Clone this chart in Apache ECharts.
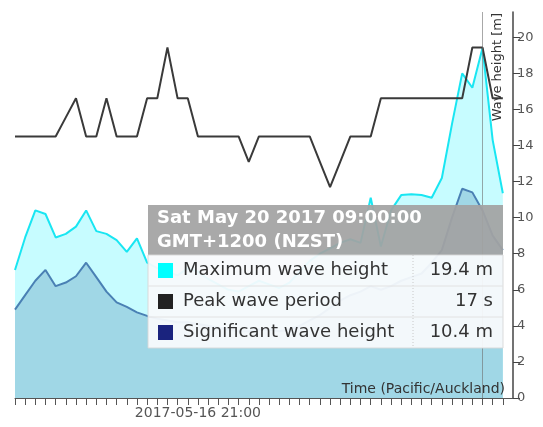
<!DOCTYPE html>
<html>
<head>
<meta charset="utf-8">
<script src="https://cdn.jsdelivr.net/npm/echarts@6/dist/echarts.min.js"></script>
<style>html,body{margin:0;padding:0;background:#fff;}#c{width:543px;height:427px;}</style>
</head>
<body>
<div id="c"></div>
<script>
// Times in NZST (UTC+12), 3-hourly
const times = [
 '2017-05-14 15:00','2017-05-14 18:00','2017-05-14 21:00',
 '2017-05-15 00:00','2017-05-15 03:00','2017-05-15 06:00','2017-05-15 09:00','2017-05-15 12:00','2017-05-15 15:00','2017-05-15 18:00','2017-05-15 21:00',
 '2017-05-16 00:00','2017-05-16 03:00','2017-05-16 06:00','2017-05-16 09:00','2017-05-16 12:00','2017-05-16 15:00','2017-05-16 18:00','2017-05-16 21:00',
 '2017-05-17 00:00','2017-05-17 03:00','2017-05-17 06:00','2017-05-17 09:00','2017-05-17 12:00','2017-05-17 15:00','2017-05-17 18:00','2017-05-17 21:00',
 '2017-05-18 00:00','2017-05-18 03:00','2017-05-18 06:00','2017-05-18 09:00','2017-05-18 12:00','2017-05-18 15:00','2017-05-18 18:00','2017-05-18 21:00',
 '2017-05-19 00:00','2017-05-19 03:00','2017-05-19 06:00','2017-05-19 09:00','2017-05-19 12:00','2017-05-19 15:00','2017-05-19 18:00','2017-05-19 21:00',
 '2017-05-20 00:00','2017-05-20 03:00','2017-05-20 06:00','2017-05-20 09:00','2017-05-20 12:00','2017-05-20 15:00'
];
const maxWave = [7.1,8.9,10.4,10.2,8.9,9.1,9.5,10.4,9.25,9.1,8.75,8.1,8.85,7.5,
 7.2,7.0,6.8,7.2,7.0,6.6,6.3,6.0,5.9,6.2,6.5,6.3,6.1,6.4,7.0,7.6,8.0,8.3,8.6,8.8,8.6,
 11.1,8.4,10.4,11.25,11.3,11.25,11.1,12.2,15.2,18.0,17.2,19.4,14.3,11.35];
const sigWave = [4.9,5.7,6.5,7.1,6.2,6.4,6.75,7.5,6.7,5.9,5.3,5.05,4.75,4.55,
 4.4,4.3,4.2,4.2,4.1,4.0,3.9,3.8,3.7,3.7,3.8,3.8,3.7,3.8,4.0,4.3,4.6,5.0,5.4,5.7,5.9,
 6.2,6.0,6.2,6.5,6.7,6.9,7.5,8.2,10.0,11.6,11.4,10.4,9.0,8.2];
const peakPeriod = [13.5,13.5,13.5,13.5,13.5,14.25,15,13.5,13.5,15,13.5,13.5,13.5,15,15,17,15,15,
 13.5,13.5,13.5,13.5,13.5,12.5,13.5,13.5,13.5,13.5,13.5,13.5,12.5,11.5,12.5,13.5,13.5,13.5,
 15,15,15,15,15,15,15,15,15,17,17,15,15];
const yTicks = {min:0, max:21.4, interval:2};
const xLabelTime = '2017-05-16 21:00';
const hoverIndex = 46;
const seriesNames = ['Maximum wave height','Peak wave period','Significant wave height'];

const HOUR = 3600000;
function toTs(s){ const [d,t]=s.split(' '); const [y,m,dd]=d.split('-').map(Number); const [h,mi]=t.split(':').map(Number); return Date.UTC(y,m-1,dd,h-12,mi); }
const ts = times.map(toTs);
function fmtLabel(v){ const d=new Date(v+12*HOUR); const p=n=>String(n).padStart(2,'0');
  return d.getUTCFullYear()+'-'+p(d.getUTCMonth()+1)+'-'+p(d.getUTCDate())+' '+p(d.getUTCHours())+':'+p(d.getUTCMinutes()); }
function fmtHeader(v){ const d=new Date(v+12*HOUR); const p=n=>String(n).padStart(2,'0');
  const days=['Sun','Mon','Tue','Wed','Thu','Fri','Sat']; const mons=['Jan','Feb','Mar','Apr','May','Jun','Jul','Aug','Sep','Oct','Nov','Dec'];
  return days[d.getUTCDay()]+' '+mons[d.getUTCMonth()]+' '+p(d.getUTCDate())+' '+d.getUTCFullYear()+' '+p(d.getUTCHours())+':'+p(d.getUTCMinutes())+':'+p(d.getUTCSeconds()); }

const xMin = ts[0];
const xMax = ts[0] + 147*HOUR;
const labelTs = toTs(xLabelTime);

const chart = echarts.init(document.getElementById('c'), null, {renderer:'canvas'});
const FONT = 'DejaVu Sans';
const tipX = 148, tipY = 205, tipW = 355;
const ZT = 100;
const rows = [
  {name: seriesNames[0], color:'#00ffff', val: maxWave[hoverIndex].toFixed(1)+' m'},
  {name: seriesNames[1], color:'#222222', val: peakPeriod[hoverIndex]+' s'},
  {name: seriesNames[2], color:'#1a237e', val: sigWave[hoverIndex].toFixed(1)+' m'}
];
const hdr = fmtHeader(ts[hoverIndex]);
const tipChildren = [
  {type:'rect', z:ZT, shape:{x:0,y:0,width:tipW,height:50}, style:{fill:'rgba(163,163,163,0.93)'}},
  {type:'rect', z:ZT, shape:{x:0,y:50,width:tipW,height:93}, style:{fill:'rgba(248,250,252,0.94)', stroke:'rgba(215,215,215,0.9)', lineWidth:1}},
  {type:'text', z:ZT+2, x:9, y:13, style:{text:hdr, fill:'#ffffff', font:'bold 18px "'+FONT+'"', textVerticalAlign:'middle', verticalAlign:'middle'}},
  {type:'text', z:ZT+2, x:9, y:37, style:{text:'GMT+1200 (NZST)', fill:'#ffffff', font:'bold 18px "'+FONT+'"', textVerticalAlign:'middle', verticalAlign:'middle'}},
  {type:'line', z:ZT+1, shape:{x1:265,y1:50,x2:265,y2:143}, style:{stroke:'#c8c8c8', lineWidth:1, lineDash:[1,2]}}
];
rows.forEach((r,i)=>{
  const cy = 50 + 15.5 + i*31;
  if(i>0) tipChildren.push({type:'line', z:ZT+1, shape:{x1:0,y1:50+i*31,x2:tipW,y2:50+i*31}, style:{stroke:'#e2e2e2', lineWidth:1}});
  tipChildren.push({type:'rect', z:ZT+2, shape:{x:10,y:cy-7.5,width:15,height:15}, style:{fill:r.color}});
  tipChildren.push({type:'text', z:ZT+2, x:35, y:cy, style:{text:r.name, fill:'#333', font:'18px "'+FONT+'"', textVerticalAlign:'middle', verticalAlign:'middle'}});
  tipChildren.push({type:'text', z:ZT+2, x:345, y:cy, style:{text:r.val, fill:'#333', font:'18px "'+FONT+'"', textAlign:'right', align:'right', textVerticalAlign:'middle', verticalAlign:'middle'}});
});

chart.setOption({
  animation:false,
  backgroundColor:'#ffffff',
  grid:{left:15, right:30, top:12, bottom:29, containLabel:false, outerBoundsMode:'none'},
  xAxis:{type:'value', min:xMin, max:xMax, interval:3*HOUR,
    splitLine:{show:false},
    axisLine:{show:true, lineStyle:{color:'#555', width:1}},
    axisTick:{show:true, length:7, inside:false, lineStyle:{color:'#555'}},
    axisLabel:{show:true, margin:8, fontFamily:FONT, fontSize:14, color:'#555', showMinLabel:true, showMaxLabel:false,
      formatter:v => (Math.abs(v-labelTs)<1000 ? fmtLabel(v) : '')}
  },
  yAxis:[
    {type:'value', position:'right', min:yTicks.min, max:yTicks.max, interval:yTicks.interval,
      splitLine:{show:false},
      axisLine:{show:true, lineStyle:{color:'#444', width:1.5}},
      axisTick:{show:true, length:7, inside:false, lineStyle:{color:'#444'}},
      axisLabel:{margin:4, fontFamily:FONT, fontSize:13, color:'#555', showMaxLabel:false,
        formatter:v => (Math.abs(v-Math.round(v))<1e-6 ? String(v) : '')}
    },
    {type:'value', show:false, min:3.2, max:18.4, splitLine:{show:false}}
  ],
  series:[
    {name:seriesNames[0], type:'line', yAxisIndex:0, data:ts.map((t,i)=>[t,maxWave[i]]), symbol:'none', z:2,
      lineStyle:{color:'#19e6f2', width:2}, areaStyle:{color:'rgba(0,240,255,0.22)', opacity:1},
      markLine:{silent:true, symbol:'none', label:{show:false}, lineStyle:{color:'rgba(110,110,110,0.6)', width:1, type:'solid'},
        data:[{xAxis:ts[hoverIndex]}]}
    },
    {name:seriesNames[2], type:'line', yAxisIndex:0, data:ts.map((t,i)=>[t,sigWave[i]]), symbol:'none', z:3,
      lineStyle:{color:'#4a80b4', width:2}, areaStyle:{color:'#a0d7e6', opacity:1}
    },
    {name:seriesNames[1], type:'line', yAxisIndex:1, data:ts.map((t,i)=>[t,peakPeriod[i]]), symbol:'none', z:4,
      lineStyle:{color:'#3a3a3a', width:2}
    }
  ],
  graphic:[
    {type:'text', x:498, y:13, rotation:Math.PI/2, z:50, style:{text:'Wave height [m]', fill:'#333', font:'13px "'+FONT+'"', textAlign:'right', align:'right', textVerticalAlign:'middle', verticalAlign:'middle'}},
    {type:'text', x:505, y:389, z:50, style:{text:'Time (Pacific/Auckland)', fill:'#333', font:'14px "'+FONT+'"', textAlign:'right', align:'right', textVerticalAlign:'middle', verticalAlign:'middle'}},
    {type:'group', x:tipX, y:tipY, z:ZT, children:tipChildren}
  ]
});
</script>
</body>
</html>
